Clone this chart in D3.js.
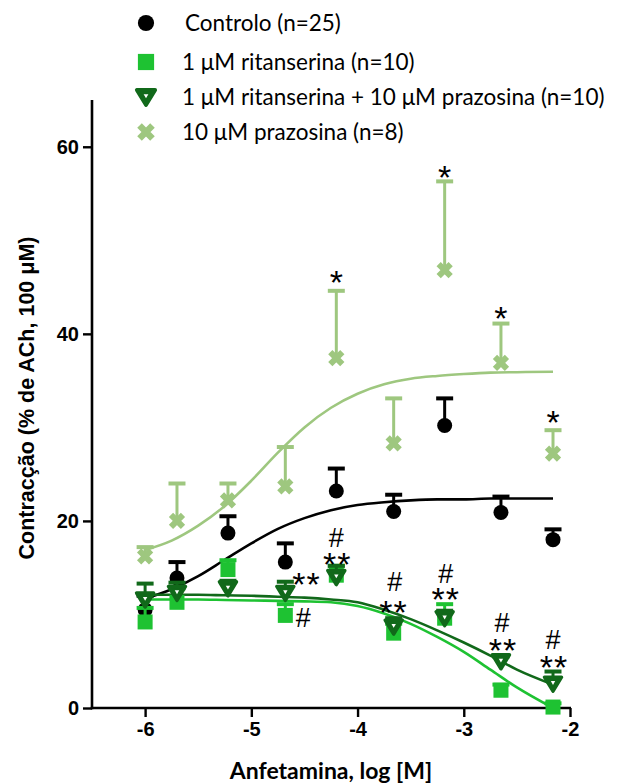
<!DOCTYPE html>
<html><head><meta charset="utf-8">
<script src="https://cdn.jsdelivr.net/npm/d3@7"></script>
<style>body{margin:0;background:#fff}svg{display:block}</style>
</head><body><svg id="c" width="619" height="784"></svg>
<script>
// ---------- data ----------
const xTicks = [-6, -5, -4, -3, -2];
const yTicks = [0, 20, 40, 60];
const doseLog = [-6, -5.7, -5.22, -4.68, -4.2, -3.66, -3.18, -2.65, -2.16];

const controlMean = [10.5, 13.9, 18.7, 15.6, 23.2, 21.0, 30.2, 20.9, 18.0];
const controlSem  = [1.5, 1.7, 1.8, 2.0, 2.4, 1.8, 2.9, 1.7, 1.1];
const ritMean = [9.2, 11.3, 14.8, 9.9, 14.2, 8.0, 9.6, 1.9, 0.1];
const ritSem  = [1.5, 1.5, 1.0, 1.2, 1.0, 1.0, 1.5, 0.6, 0.4];
const comboMean = [11.6, 12.3, 12.8, 12.3, 14.0, 8.7, 9.6, 5.0, 2.6];
const comboSem  = [1.7, 1.1, 0.8, 1.2, 1.2, 0.9, 0.8, 0.5, 1.3];
const prazMean = [16.2, 20.0, 22.2, 23.7, 37.4, 28.3, 46.8, 36.9, 27.2];
const prazSem  = [1.0, 4.0, 1.8, 4.2, 7.2, 4.8, 9.5, 4.2, 2.5];

// fitted curves
const curveX = [-6, -5.75, -5.5, -5.25, -5, -4.75, -4.5, -4.25, -4, -3.75, -3.5, -3.25, -3, -2.75, -2.5, -2.16];
const controlCurve = [11.7, 12.7, 14.1, 15.85, 17.6, 19.15, 20.3, 21.15, 21.7, 22.0, 22.2, 22.3, 22.3, 22.4, 22.4, 22.4];
const ritCurve = [11.6, 11.6, 11.6, 11.55, 11.5, 11.45, 11.4, 11.3, 10.9, 10.1, 9.0, 7.6, 6.0, 4.1, 2.2, 0.0];
const comboCurve = [12.1, 12.1, 12.1, 12.05, 12.0, 11.9, 11.8, 11.6, 11.3, 10.5, 9.5, 8.3, 7.0, 5.6, 4.1, 2.5];
const prazCurve = [16.9, 17.9, 19.5, 21.6, 24.3, 27.3, 30.0, 32.1, 33.6, 34.6, 35.2, 35.5, 35.7, 35.85, 35.9, 35.95];

const legendLabels = ["Controlo (n=25)", "1 \u03bcM ritanserina (n=10)", "1 \u03bcM ritanserina + 10 \u03bcM prazosina (n=10)", "10 \u03bcM prazosina (n=8)"];

const annotText = ["*", "*", "*", "*", "**", "#", "**", "#", "**", "#", "**", "#", "**", "#", "**", "#"];
const annotX = [-4.2, -3.18, -2.65, -2.16, -4.49, -4.51, -4.2, -4.2, -3.67, -3.65, -3.18, -3.17, -2.64, -2.64, -2.16, -2.16];
const annotY = [46.3, 57.5, 42.5, 31.3, 14.0, 9.7, 16.2, 18.3, 11.0, 13.6, 12.4, 14.4, 7.0, 9.2, 5.1, 7.3];

// ---------- drawing ----------
const colors = {control: "#000000", rit: "#1ec232", combo: "#11691a", praz: "#9ec77f"};
const svg = d3.select("#c");
const x = d3.scaleLinear().domain([-6.5, -2]).range([92, 570]);
const y = d3.scaleLinear().domain([0, 65]).range([708, 100]);

// axes
const gx = svg.append("g").attr("transform", "translate(0,708)")
  .call(d3.axisBottom(x).tickValues(xTicks).tickSize(9).tickSizeOuter(0).tickPadding(5).tickFormat(d3.format("d")));
const gy = svg.append("g").attr("transform", "translate(92,0)")
  .call(d3.axisLeft(y).tickValues(yTicks).tickSize(9).tickSizeOuter(0).tickPadding(4));
[gx, gy].forEach(g => {
  g.select(".domain").attr("stroke", "#000").attr("stroke-width", 2.6);
  g.selectAll(".tick line").attr("stroke", "#000").attr("stroke-width", 2.4);
  g.selectAll(".tick text").attr("fill", "#000").attr("font-family", "Liberation Sans, Arial, sans-serif")
    .attr("font-weight", "bold").attr("font-size", 20);
});
gx.selectAll(".tick text").text(d => d3.format("d")(d).replace("\u2212", "-"));
gx.select(".domain").attr("d", "M90.7,0H571");
gy.select(".domain").attr("d", "M0,709.3V100");

svg.append("text").attr("x", 331).attr("y", 779).attr("text-anchor", "middle")
  .attr("font-family", "Lato, sans-serif").attr("font-weight", "bold").attr("font-size", 23)
  .text("Anfetamina, log [M]");
svg.append("text").attr("transform", "translate(34,398) rotate(-90)").attr("text-anchor", "middle")
  .attr("font-family", "Liberation Sans, Arial, sans-serif").attr("font-weight", "bold").attr("font-size", 21.5)
  .text("Contrac\u00e7\u00e3o (% de ACh, 100 \u03bcM)");

// curves
const line = d3.line().x((d, i) => x(curveX[i])).y(d => y(d)).curve(d3.curveMonotoneX);
[[controlCurve, colors.control], [ritCurve, colors.rit], [comboCurve, colors.combo], [prazCurve, colors.praz]]
  .forEach(([c, col]) => svg.append("path").attr("d", line(c)).attr("fill", "none")
    .attr("stroke", col).attr("stroke-width", 2.6));

// marker drawers
function marker(g, type, col, s) {
  s = s || 1;
  if (type === "circle") g.append("circle").attr("r", 7.5 * s).attr("fill", col);
  else if (type === "square") g.append("rect").attr("x", -7.5 * s).attr("y", -7.5 * s)
    .attr("width", 15 * s).attr("height", 15 * s).attr("fill", col);
  else if (type === "tri") {
    g.append("path").attr("d", "M-8.5,-6.5L8.5,-6.5L0,7.5Z").attr("fill", col).attr("stroke", col)
      .attr("stroke-width", 3.5).attr("stroke-linejoin", "round").attr("transform", `scale(${s})`);
    g.append("path").attr("d", "M-2.2,-2.6L2.2,-2.6L0,1.2Z").attr("fill", "#fff").attr("transform", `scale(${s})`);
  } else if (type === "x") {
    g.append("path").attr("d", "M-6,-6L6,6M6,-6L-6,6").attr("stroke", col).attr("stroke-width", 6)
      .attr("stroke-linecap", "butt").attr("fill", "none").attr("transform", `scale(${s})`);
  }
}

function series(mean, sem, col, type) {
  const g = svg.append("g");
  mean.forEach((m, i) => {
    const cx = x(doseLog[i]);
    g.append("line").attr("x1", cx).attr("x2", cx).attr("y1", y(m)).attr("y2", y(m + sem[i]))
      .attr("stroke", col).attr("stroke-width", 3);
    g.append("line").attr("x1", cx - 8.5).attr("x2", cx + 8.5).attr("y1", y(m + sem[i])).attr("y2", y(m + sem[i]))
      .attr("stroke", col).attr("stroke-width", 4);
    marker(g.append("g").attr("transform", `translate(${cx},${y(m)})`), type, col);
  });
}
series(controlMean, controlSem, colors.control, "circle");
series(ritMean, ritSem, colors.rit, "square");
series(comboMean, comboSem, colors.combo, "tri");
series(prazMean, prazSem, colors.praz, "x");

// annotations
annotText.forEach((t, i) => {
  const isStar = t.indexOf("*") >= 0;
  svg.append("text").attr("x", x(annotX[i]) + (t === "**" ? 1 : 0)).attr("y", y(annotY[i]))
    .attr("dy", isStar ? "0.56em" : "0.36em")
    .attr("text-anchor", "middle")
    .attr("font-family", "Liberation Sans, Arial, sans-serif")
    .attr("font-size", isStar ? 34 : 27)
    .attr("letter-spacing", t === "**" ? 1 : 0)
    .attr("fill", "#000").text(t);
});

// legend
const legTypes = ["circle", "square", "tri", "x"];
const legCols = [colors.control, colors.rit, colors.combo, colors.praz];
const legY = [23, 62, 97, 132];
legendLabels.forEach((lab, i) => {
  marker(svg.append("g").attr("transform", `translate(146,${legY[i]})`), legTypes[i], legCols[i], 1.08);
  svg.append("text").attr("x", i === 0 ? 185 : 182).attr("y", legY[i] + 8)
    .attr("font-family", "Lato, sans-serif").attr("font-size", 22.5).attr("fill", "#000").text(lab);
});
</script></body></html>
